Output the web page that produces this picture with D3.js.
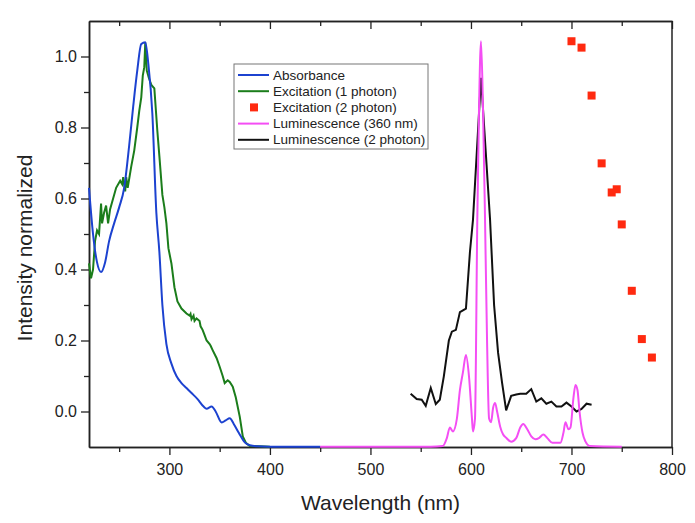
<!DOCTYPE html>
<html>
<head>
<meta charset="utf-8">
<script src="https://cdn.jsdelivr.net/npm/d3@7"></script>
<style>
  body { margin: 0; background: #fff; }
  text { font-family: "Liberation Sans", Arial, sans-serif; fill: #222; }
</style>
</head>
<body>
<div id="chart"></div>
<script>
// ---- data ----
const absWl = [220, 224, 228, 232, 236, 240, 245, 250, 255, 260, 264, 268, 272, 276, 279, 283, 287, 290, 293, 297, 302, 307, 312, 317, 322, 328, 334, 337, 342, 346, 352, 356, 360, 364, 369, 375, 380, 388, 400, 450];
const absVal = [0.63, 0.50, 0.42, 0.393, 0.42, 0.48, 0.53, 0.575, 0.63, 0.75, 0.86, 0.96, 1.035, 1.04, 0.98, 0.84, 0.56, 0.45, 0.30, 0.19, 0.135, 0.10, 0.08, 0.066, 0.052, 0.035, 0.014, 0.008, 0.014, 0.0, -0.031, -0.025, -0.019, -0.035, -0.06, -0.087, -0.095, -0.098, -0.099, -0.099];

const exc1Wl = [220, 222, 224, 226, 228, 230, 232, 233, 235, 237, 239, 241, 244, 247, 251, 253, 254, 256, 257, 258.5, 262, 265, 268, 270, 272, 273.5, 275, 276, 277.5, 279.5, 282, 285, 288, 290, 293, 295, 297, 299, 302, 305, 308, 312, 317, 320, 321, 322, 324, 325, 327, 330, 331, 333, 335, 337, 340, 341, 343, 347, 350, 353, 355, 358, 360, 363, 366, 370, 373, 376, 380, 400];
const exc1Val = [0.417, 0.375, 0.40, 0.48, 0.51, 0.50, 0.586, 0.53, 0.56, 0.58, 0.53, 0.57, 0.60, 0.63, 0.65, 0.64, 0.66, 0.62, 0.66, 0.63, 0.69, 0.735, 0.80, 0.847, 0.885, 0.946, 0.97, 1.04, 0.96, 0.94, 0.92, 0.91, 0.79, 0.72, 0.61, 0.575, 0.53, 0.46, 0.417, 0.35, 0.31, 0.29, 0.276, 0.27, 0.275, 0.26, 0.27, 0.255, 0.262, 0.255, 0.24, 0.23, 0.215, 0.20, 0.19, 0.185, 0.173, 0.15, 0.126, 0.10, 0.08, 0.088, 0.083, 0.07, 0.04, -0.015, -0.07, -0.088, -0.097, -0.099];

const exc2Wl = [700, 710, 720, 730, 740, 745, 750, 760, 770, 780];
const exc2Val = [1.043, 1.025, 0.89, 0.699, 0.617, 0.626, 0.527, 0.34, 0.204, 0.152];

const lum360Wl = [450, 560, 572, 576, 579, 582, 586, 589, 592, 595, 598, 601, 602, 604, 606.3, 608, 610, 612, 614, 616, 618, 620, 622, 624, 626, 629, 632, 635, 640, 645, 649, 652, 656, 660, 664, 668, 672, 676, 681, 689, 692, 694, 697, 699, 702, 704, 706, 708, 711, 714, 718, 750];
const lum360Val = [-0.099, -0.099, -0.097, -0.075, -0.045, -0.056, -0.02, 0.06, 0.11, 0.159, 0.10, -0.02, -0.056, -0.02, 0.54, 0.85, 1.043, 0.85, 0.54, 0.2, -0.02, -0.03, 0.01, 0.024, 0.0, -0.042, -0.065, -0.074, -0.085, -0.075, -0.045, -0.035, -0.05, -0.07, -0.078, -0.074, -0.065, -0.075, -0.088, -0.088, -0.06, -0.03, -0.05, -0.045, 0.04, 0.075, 0.06, 0.0, -0.06, -0.085, -0.097, -0.099];

const lum2Wl = [540, 546, 551, 555, 560, 565, 569, 573, 578, 581, 585, 589, 595, 599, 602, 610, 619, 623, 627, 631, 635, 640, 645, 649, 655, 660, 665, 670, 675, 680, 685, 690, 695, 700, 705, 710, 715, 720];
const lum2Val = [0.05, 0.035, 0.033, 0.016, 0.066, 0.021, 0.033, 0.099, 0.2, 0.225, 0.23, 0.28, 0.29, 0.45, 0.54, 0.94, 0.54, 0.30, 0.165, 0.08, 0.003, 0.044, 0.048, 0.05, 0.05, 0.063, 0.028, 0.037, 0.022, 0.028, 0.014, 0.014, 0.025, 0.014, 0.0, 0.007, 0.022, 0.019];

const xMajor = [300, 400, 500, 600, 700, 800];
const xMinor = [250, 350, 450, 550, 650, 750];
const yMajor = [0.0, 0.2, 0.4, 0.6, 0.8, 1.0];
const yMinor = [0.1, 0.3, 0.5, 0.7, 0.9];

const legendNames = ["Absorbance", "Excitation (1 photon)", "Excitation (2 photon)", "Luminescence (360 nm)", "Luminescence (2 photon)"];
const colors = { abs: "#1c42d0", exc1: "#1b7d1b", exc2: "#ff2a10", lum360: "#f44ef4", lum2: "#111111" };

// ---- set up ----
const W = 695, H = 523;
const margin = { top: 21, right: 23, bottom: 76, left: 89 };
const width = W - margin.left - margin.right;
const height = H - margin.top - margin.bottom;

const svg = d3.select("#chart").append("svg")
  .attr("width", W).attr("height", H);
svg.append("rect").attr("width", W).attr("height", H).attr("fill", "#fff");

const g = svg.append("g").attr("transform", `translate(${margin.left},${margin.top})`);

const x = d3.scaleLinear().domain([220, 800]).range([0, width]);
const y = d3.scaleLinear().domain([-0.1, 1.1]).range([height, 0]);

// ---- axes ----
const axisColor = "#222";
const xAxisG = g.append("g").attr("transform", `translate(0,${height})`)
  .call(d3.axisBottom(x).tickValues(xMajor).tickSize(8).tickSizeOuter(0).tickFormat(d3.format("d")));
xAxisG.append("g").call(d3.axisBottom(x).tickValues(xMinor).tickSize(5).tickSizeOuter(0).tickFormat(""));

const yAxisG = g.append("g")
  .call(d3.axisLeft(y).tickValues(yMajor).tickSize(8).tickSizeOuter(0).tickFormat(d3.format(".1f")));
yAxisG.append("g").call(d3.axisLeft(y).tickValues(yMinor).tickSize(5).tickSizeOuter(0).tickFormat(""));

// top axis, ticks pointing inward
const topAxisG = g.append("g")
  .call(d3.axisTop(x).tickValues(xMajor).tickSize(-8).tickSizeOuter(0).tickFormat(""));
topAxisG.append("g").call(d3.axisTop(x).tickValues(xMinor).tickSize(-5).tickSizeOuter(0).tickFormat(""));

// right border
g.append("line").attr("x1", width).attr("x2", width).attr("y1", 0).attr("y2", height)
  .attr("stroke", axisColor).attr("stroke-width", 1.5);

g.selectAll(".domain").attr("stroke", axisColor).attr("stroke-width", 1.5);
g.selectAll(".tick line").attr("stroke", axisColor).attr("stroke-width", 1.3);
g.selectAll(".tick text").style("font-size", "16px").attr("fill", "#222");
xAxisG.selectAll(".tick text").attr("dy", "1.05em");
yAxisG.selectAll(".tick text").attr("x", -12);

// axis titles
svg.append("text")
  .attr("x", margin.left + width / 2).attr("y", 510)
  .attr("text-anchor", "middle").style("font-size", "21px")
  .text("Wavelength (nm)");
svg.append("text")
  .attr("transform", `translate(32,${248}) rotate(-90)`)
  .attr("text-anchor", "middle").style("font-size", "21px")
  .text("Intensity normalized");

// ---- lines ----
const makeLine = (xs, vs, curve) => d3.line()
  .x((d, i) => x(xs[i])).y((d) => y(d)).curve(curve)(vs);

const plot = g.append("g");
plot.append("path").attr("d", makeLine(exc1Wl, exc1Val, d3.curveLinear))
  .attr("fill", "none").attr("stroke", colors.exc1).attr("stroke-width", 2);
plot.append("path").attr("d", makeLine(absWl, absVal, d3.curveMonotoneX))
  .attr("fill", "none").attr("stroke", colors.abs).attr("stroke-width", 2);
plot.append("path").attr("d", makeLine(lum2Wl, lum2Val, d3.curveLinear))
  .attr("fill", "none").attr("stroke", colors.lum2).attr("stroke-width", 2);
plot.append("path").attr("d", makeLine(lum360Wl, lum360Val, d3.curveMonotoneX))
  .attr("fill", "none").attr("stroke", colors.lum360).attr("stroke-width", 2);

// 2 photon excitation squares
const sq = 8;
plot.selectAll("rect.exc2").data(exc2Val).enter().append("rect")
  .attr("class", "exc2")
  .attr("x", (d, i) => x(exc2Wl[i]) - sq / 2)
  .attr("y", (d) => y(d) - sq / 2)
  .attr("width", sq).attr("height", sq)
  .attr("fill", colors.exc2);

// ---- legend ----
const legend = svg.append("g").attr("transform", "translate(234,64)");
legend.append("rect").attr("width", 194).attr("height", 85)
  .attr("fill", "#fff").attr("stroke", "#777").attr("stroke-width", 1);
const keys = ["abs", "exc1", "exc2", "lum360", "lum2"];
legendNames.forEach((name, i) => {
  const ly = 11 + i * 16.2;
  if (keys[i] === "exc2") {
    legend.append("rect").attr("x", 16).attr("y", ly - 4).attr("width", 8).attr("height", 8)
      .attr("fill", colors.exc2);
  } else {
    legend.append("line").attr("x1", 4).attr("x2", 35).attr("y1", ly).attr("y2", ly)
      .attr("stroke", colors[keys[i]]).attr("stroke-width", 2);
  }
  legend.append("text").attr("x", 39).attr("y", ly + 4.5)
    .style("font-size", "13.5px").text(name);
});
</script>
</body>
</html>
